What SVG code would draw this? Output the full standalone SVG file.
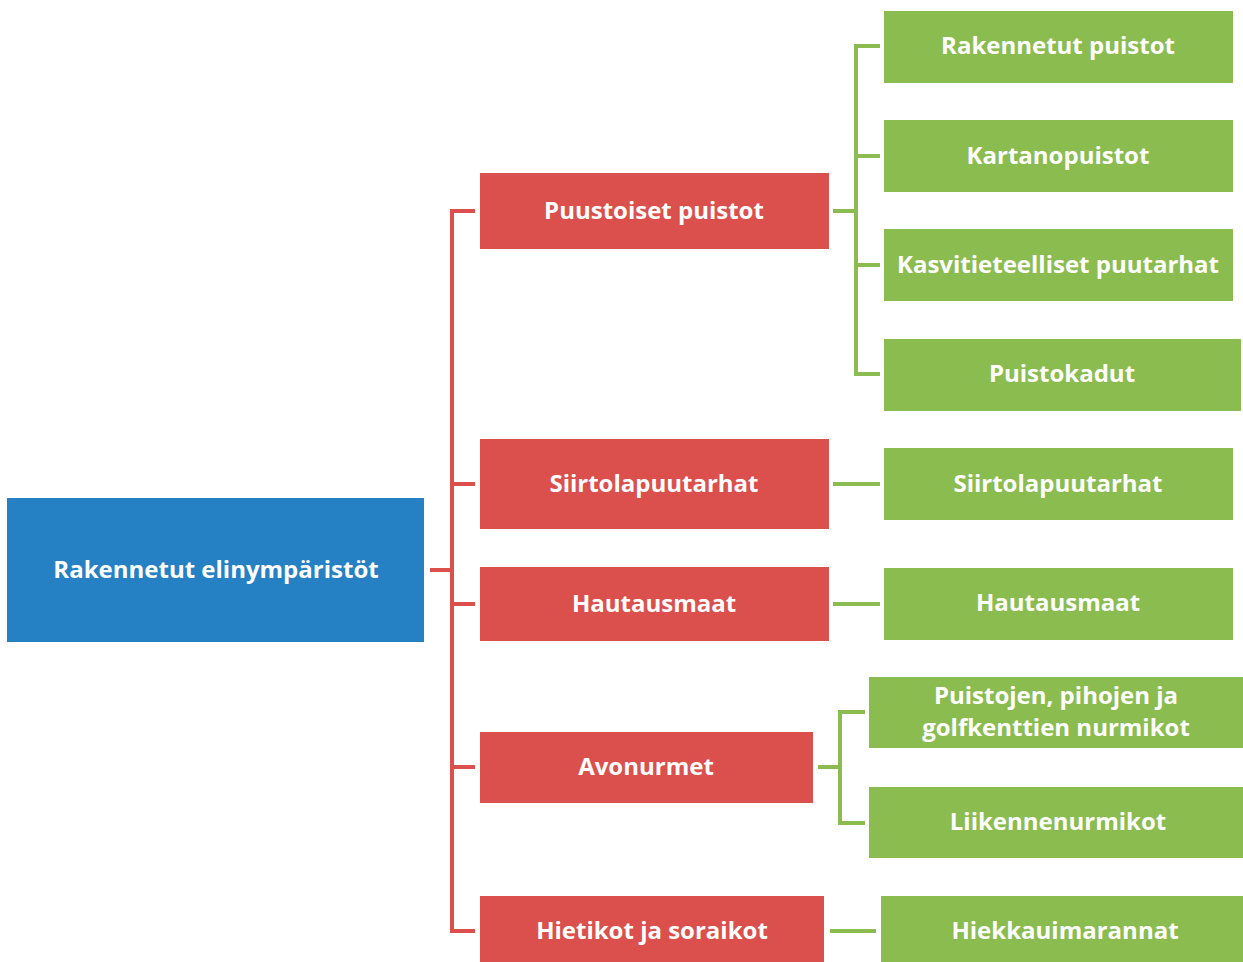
<svg xmlns="http://www.w3.org/2000/svg" width="1243" height="962" viewBox="0 0 1243 962">
<style>
.blue{fill:#2581C4}
.red{fill:#DB4F4C}
.green{fill:#8BBC50}
text{font-family:"Open Sans","Liberation Sans",sans-serif;font-weight:bold;font-size:24px;fill:#fff;text-anchor:middle;dominant-baseline:central}
.rl{fill:none;stroke:#DB4F4C;stroke-width:4}
.gl{fill:none;stroke:#8BBC50;stroke-width:4}
</style>
<rect width="1243" height="962" fill="#fff"/>
<g id="connectors">
<path class="rl" d="M430 570H452M475 211H452V931H475M452 484H475M452 604H475M452 767H475"/>
<path class="gl" d="M833 211H856M880 46H856V374H880M856 156H880M856 265H880"/>
<path class="gl" d="M833 484H880M833 604H880M830 931H876"/>
<path class="gl" d="M818 767H840M865 712H840V823H865"/>
</g>
<g id="root"><rect class="blue" x="7" y="498" width="417" height="144"/><text x="216" y="568">Rakennetut elinympäristöt</text></g>
<g id="r1"><rect class="red" x="480" y="173" width="349" height="76"/><text x="654" y="209">Puustoiset puistot</text></g>
<g id="r2"><rect class="red" x="480" y="439" width="349" height="90"/><text x="654" y="482">Siirtolapuutarhat</text></g>
<g id="r3"><rect class="red" x="480" y="567" width="349" height="74"/><text x="654" y="602">Hautausmaat</text></g>
<g id="r4"><rect class="red" x="480" y="732" width="333" height="71"/><text x="646" y="765">Avonurmet</text></g>
<g id="r5"><rect class="red" x="480" y="896" width="344" height="70"/><text x="652" y="929">Hietikot ja soraikot</text></g>
<g id="g1"><rect class="green" x="884" y="11" width="349" height="72"/><text x="1058" y="44">Rakennetut puistot</text></g>
<g id="g2"><rect class="green" x="884" y="120" width="349" height="72"/><text x="1058" y="154">Kartanopuistot</text></g>
<g id="g3"><rect class="green" x="884" y="229" width="349" height="72"/><text x="1058" y="263">Kasvitieteelliset puutarhat</text></g>
<g id="g4"><rect class="green" x="884" y="339" width="357" height="72"/><text x="1062" y="372">Puistokadut</text></g>
<g id="g5"><rect class="green" x="884" y="448" width="349" height="72"/><text x="1058" y="482">Siirtolapuutarhat</text></g>
<g id="g6"><rect class="green" x="884" y="568" width="349" height="72"/><text x="1058" y="601">Hautausmaat</text></g>
<g id="g7"><rect class="green" x="869" y="677" width="374" height="71"/><text x="1056" y="694">Puistojen, pihojen ja</text><text x="1056" y="726">golfkenttien nurmikot</text></g>
<g id="g8"><rect class="green" x="869" y="787" width="374" height="71"/><text x="1058" y="820">Liikennenurmikot</text></g>
<g id="g9"><rect class="green" x="881" y="896" width="362" height="70"/><text x="1065" y="929">Hiekkauimarannat</text></g>
</svg>
